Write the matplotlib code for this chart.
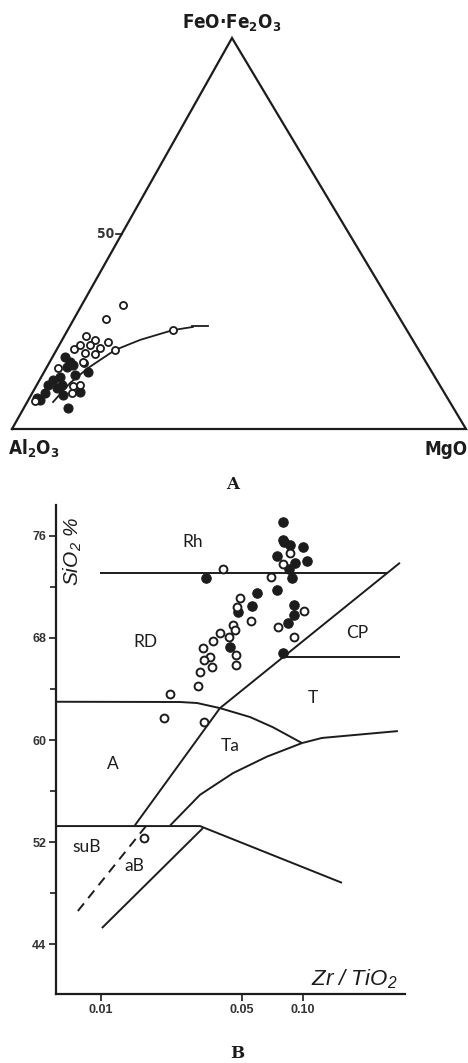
import numpy as np
import matplotlib
matplotlib.use("Agg")
import matplotlib.pyplot as plt
from matplotlib import font_manager
from matplotlib.ticker import FixedLocator, FixedFormatter, NullLocator

# ---------------- Panel A : AFM-type ternary (wt %) ----------------
# FeO+Fe2O3 (apex) and MgO (right corner); Al2O3 = 100 - both
tern_open_fe = [31.7, 28.1, 25.3, 20.2, 23.8, 22.8, 22.3, 20.5, 21.5, 21.5, 20.7,
                19.4, 19.2, 16.9, 11.0, 9.2, 11.3, 7.2, 15.6, 17.1]
tern_open_mg = [9.1, 7.1, 23.2, 12.9, 4.8, 7.2, 10.3, 3.7, 4.6, 6.8, 9.3,
                6.7, 9.0, 7.7, 8.1, 8.7, 9.5, 1.6, 2.6, 7.3]
tern_fill_fe = [17.1, 16.4, 15.9, 14.6, 12.5, 13.3, 10.5, 11.3, 9.2, 7.9, 7.4,
                5.4, 9.5, 8.7, 11.3, 13.8, 18.4]
tern_fill_mg = [4.5, 5.5, 4.4, 9.7, 3.0, 4.1, 4.8, 5.5, 2.8, 1.7, 2.6,
                9.7, 10.4, 7.0, 2.5, 7.2, 2.8]
trend_fe = [6.9, 11.8, 15.6, 20.2, 22.8, 25.3, 26.1]
trend_mg = [5.7, 7.1, 9.2, 12.9, 17.2, 23.2, 27.2]
tern_corner_labels = ["FeO\u00b7Fe$_\\mathregular{2}$O$_\\mathregular{3}$",
                      "Al$_\\mathregular{2}$O$_\\mathregular{3}$", "MgO"]
tern_tick_value = 50

# ---------------- Panel B : Zr/TiO2 vs SiO2 ----------------
open_x = [0.0863, 0.0796, 0.0402, 0.0695, 0.0488, 0.0471, 0.0553, 0.0450, 0.0460,
          0.1011, 0.0752, 0.0388, 0.0430, 0.0358, 0.0902, 0.0320, 0.0347, 0.0466,
          0.0324, 0.0355, 0.0466, 0.0309, 0.0302, 0.0220, 0.0205, 0.0324, 0.0163]
open_y = [74.7, 73.8, 73.4, 72.8, 71.1, 70.4, 69.3, 69.0, 68.6,
          70.1, 68.9, 68.4, 68.1, 67.8, 68.1, 67.2, 66.5, 66.7,
          66.3, 65.7, 65.9, 65.3, 64.2, 63.6, 61.7, 61.4, 52.3]
fill_x = [0.0796, 0.0796, 0.0805, 0.0863, 0.1000, 0.0743, 0.0912, 0.1047, 0.0853,
          0.0883, 0.0331, 0.0743, 0.0592, 0.0560, 0.0476, 0.0902, 0.0902, 0.0843,
          0.0435, 0.0796]
fill_y = [77.1, 75.7, 75.5, 75.3, 75.1, 74.4, 73.9, 74.0, 73.4,
          72.7, 72.7, 71.8, 71.5, 70.5, 70.0, 70.6, 69.8, 69.2,
          67.3, 66.8]

# field boundaries (Winchester & Floyd)
rh_x, rh_y = [0.0099, 0.26], [73.1, 73.1]
diag_x, diag_y = [0.0147, 0.0388, 0.302], [53.3, 62.5, 73.9]
dash_x, dash_y = [0.0167, 0.0076], [53.25, 46.5]
cp_x, cp_y = [0.0796, 0.302], [66.5, 66.5]
ard_x = [0.00598, 0.0246, 0.0299, 0.0388, 0.0547, 0.0710, 0.0989]
ard_y = [63.0, 62.98, 62.9, 62.5, 61.8, 61.0, 59.76]
tlow_x, tlow_y = [0.0989, 0.124, 0.295], [59.76, 60.16, 60.7]
ta_x = [0.0989, 0.0664, 0.0450, 0.0309, 0.0220]
ta_y = [59.76, 58.7, 57.4, 55.7, 53.3]
sub_x, sub_y = [0.00598, 0.0309, 0.156], [53.25, 53.25, 48.8]
ab_x, ab_y = [0.0320, 0.0101], [53.1, 45.25]

field_names = ["Rh", "RD", "CP", "T", "Ta", "A", "suB", "aB"]
field_x = [0.0285, 0.0165, 0.185, 0.112, 0.0435, 0.0115, 0.0085, 0.0147]
field_y = [75.5, 67.7, 68.4, 63.3, 59.5, 58.1, 51.6, 50.1]

yt_major = [44, 52, 60, 68, 76]
yt_minor = [48, 56, 64, 72]
xt_vals = [0.01, 0.05, 0.10]
xt_labels = ["0.01", "0.05", "0.10"]

# ---------------- fonts ----------------
fl = font_manager.fontManager.ttflist
names = {f.name for f in fl}
if "Liberation Sans Narrow" in names:
    COND, STRETCH, csize = "Liberation Sans Narrow", "normal", 1.0
elif any(f.name == "DejaVu Sans" and f.stretch == "condensed" for f in fl):
    COND, STRETCH, csize = "DejaVu Sans", "condensed", 0.9
else:
    COND, STRETCH, csize = "DejaVu Sans", "normal", 0.77
SANS = "Liberation Sans"
GEO = "Lato" if "Lato" in names else "DejaVu Sans"
INK = "#1c1c1c"

W, H = 468, 1063
fig = plt.figure(figsize=(W / 100, H / 100), dpi=100)
fig.patch.set_facecolor("white")

# ================= ternary =================
L, R, B_, T_ = 12, 466, 429, 38
apex_x = (232 - L) / (R - L)
ax1 = fig.add_axes([L / W, (H - B_) / H, (R - L) / W, (B_ - T_) / H])
ax1.set_xlim(0, 1)
ax1.set_ylim(0, 1)
ax1.axis("off")


def tern(fe, mg):
    fe = np.asarray(fe) / 100.0
    mg = np.asarray(mg) / 100.0
    return mg + fe * apex_x, fe


ax1.plot([0, 1, apex_x, 0], [0, 0, 1, 0], color=INK, lw=1.6, clip_on=False,
         solid_joinstyle="miter")
tx, ty = tern(trend_fe, trend_mg)
ax1.plot(tx, ty, color=INK, lw=1.3, zorder=2)
ex, ey = tern([26.3, 26.3], [27.0, 30.5])
ax1.plot(ex, ey, color=INK, lw=1.3, zorder=2)
fx, fy = tern(tern_fill_fe, tern_fill_mg)
ax1.scatter(fx, fy, s=42, facecolor=INK, edgecolor=INK, lw=0.8, zorder=3)
ox, oy = tern(tern_open_fe, tern_open_mg)
ax1.scatter(ox, oy, s=26, facecolor="white", edgecolor=INK, lw=1.3, zorder=4)

# 50 % tick on left edge
mx, my = tern([tern_tick_value], [0])
ax1.plot([mx[0] - 0.014, mx[0]], [my[0], my[0]], color=INK, lw=1.2)
ax1.text(mx[0] - 0.016, my[0], str(tern_tick_value), ha="right", va="center",
         fontsize=11 * csize, family=COND, fontstretch=STRETCH,
         color="#333333", fontweight="bold")

ckw = dict(ha="center", va="center", fontsize=15 * csize, family=COND,
           fontstretch=STRETCH, fontweight="bold", color=INK)
ax1.text(apex_x, 1.038, tern_corner_labels[0], **ckw)
ax1.text(0.048, -0.052, tern_corner_labels[1], **ckw)
ax1.text(0.955, -0.052, tern_corner_labels[2], **ckw)

fig.text(233 / W, 1 - 484 / H, "A", ha="center", va="center", fontsize=12,
         family="DejaVu Serif", fontweight="bold", color=INK)

# ================= Zr/TiO2 – SiO2 =================
axL, axR, axB, axT = 56, 405, 994, 505
ax2 = fig.add_axes([axL / W, (H - axB) / H, (axR - axL) / W, (axB - axT) / H])
ax2.set_xscale("log")
ax2.set_xlim(0.005986, 0.3199)
ax2.set_ylim(40.08, 78.43)
for s in ["top", "right"]:
    ax2.spines[s].set_visible(False)
for s in ["left", "bottom"]:
    ax2.spines[s].set_linewidth(1.6)
    ax2.spines[s].set_color(INK)

ax2.yaxis.set_major_locator(FixedLocator(yt_major))
ax2.yaxis.set_minor_locator(FixedLocator(yt_minor))
ax2.xaxis.set_major_locator(FixedLocator(xt_vals))
ax2.xaxis.set_major_formatter(FixedFormatter(xt_labels))
ax2.xaxis.set_minor_locator(NullLocator())
ax2.tick_params(axis="both", which="major", direction="out", length=5, width=1.2,
                color=INK, labelcolor="#333333", labelsize=9, pad=2)
ax2.tick_params(axis="y", which="minor", direction="out", length=4, width=1.2,
                color=INK)
for lab in ax2.get_xticklabels() + ax2.get_yticklabels():
    lab.set_family(SANS)
    lab.set_fontweight("bold")

lkw = dict(color=INK, lw=1.4, zorder=2, solid_capstyle="butt")
ax2.plot(rh_x, rh_y, **lkw)
ax2.plot(diag_x, diag_y, **lkw)
ax2.plot(cp_x, cp_y, **lkw)
ax2.plot(ard_x, ard_y, **lkw)
ax2.plot(tlow_x, tlow_y, **lkw)
ax2.plot(ta_x, ta_y, **lkw)
ax2.plot(sub_x, sub_y, **lkw)
ax2.plot(ab_x, ab_y, **lkw)
ax2.plot(dash_x, dash_y, color=INK, lw=1.4, ls=(0, (5, 3.5)), zorder=2)

ax2.scatter(fill_x, fill_y, s=46, facecolor=INK, edgecolor=INK, lw=0.8, zorder=4,
            clip_on=False)
ax2.scatter(open_x, open_y, s=32, facecolor="white", edgecolor=INK, lw=1.4,
            zorder=5, clip_on=False)

for name, x, y in zip(field_names, field_x, field_y):
    ax2.text(x, y, name, ha="center", va="center", fontsize=12.5, family=GEO,
             color=INK)

ax2.text((73 - axL) / (axR - axL), (axB - 551) / (axB - axT),
         "SiO$_\\mathregular{2}$ %", transform=ax2.transAxes, rotation=90,
         ha="center", va="center", fontsize=15, style="italic", family=SANS,
         color=INK)
ax2.text(0.977, 0.03, "Zr / TiO$_\\mathregular{2}$", transform=ax2.transAxes,
         ha="right", va="center", fontsize=16, style="italic", family=SANS,
         color=INK)

fig.text(237 / W, 1 - 1054 / H, "B", ha="center", va="center", fontsize=12,
         family="DejaVu Serif", fontweight="bold", color=INK)

fig.savefig("out.png", dpi=100, facecolor="white")
